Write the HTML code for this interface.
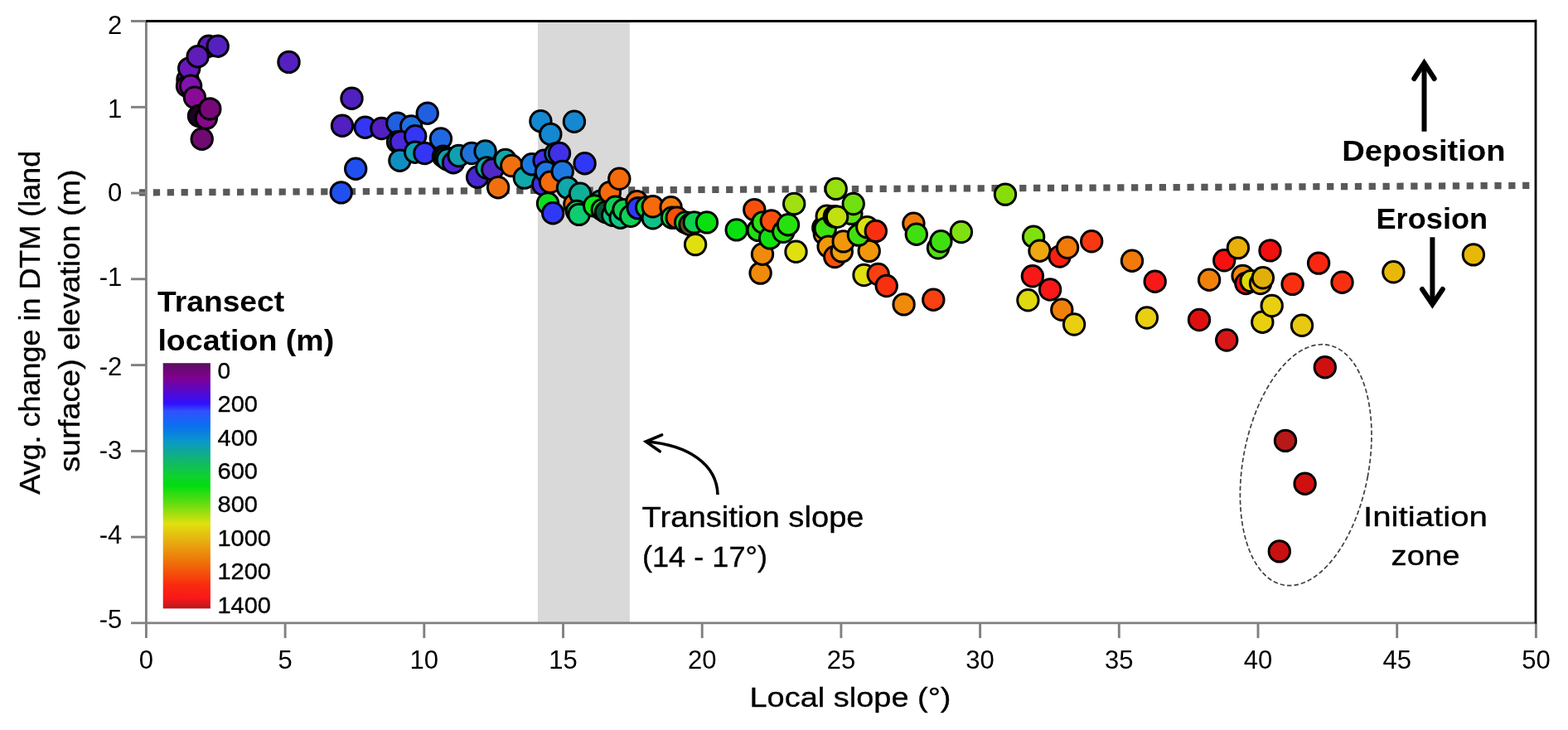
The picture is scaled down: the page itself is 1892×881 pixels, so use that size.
<!DOCTYPE html>
<html lang="en"><head><meta charset="utf-8"><title>Local slope vs. DTM elevation change</title>
<style>
html,body{margin:0;padding:0;background:#fff;}
body{width:1892px;height:881px;overflow:hidden;}
svg{display:block;}
text{font-family:"Liberation Sans",Arial,sans-serif;fill:#000;}
.b{font-weight:bold;}
.a{stroke:#000;stroke-width:0.35px;}
</style></head><body>
<svg width="1892" height="881" viewBox="0 0 1892 881">
<defs>
<linearGradient id="cb" x1="0" y1="0" x2="0" y2="1">
<stop offset="0" stop-color="#5b1060"/>
<stop offset="0.06" stop-color="#800090"/>
<stop offset="0.165" stop-color="#3010ff"/>
<stop offset="0.195" stop-color="#3050ff"/>
<stop offset="0.258" stop-color="#0a70f0"/>
<stop offset="0.32" stop-color="#0a98c8"/>
<stop offset="0.38" stop-color="#10b080"/>
<stop offset="0.46" stop-color="#10d030"/>
<stop offset="0.497" stop-color="#00dd10"/>
<stop offset="0.57" stop-color="#60dd10"/>
<stop offset="0.655" stop-color="#e0e010"/>
<stop offset="0.735" stop-color="#e8a810"/>
<stop offset="0.823" stop-color="#f06808"/>
<stop offset="0.908" stop-color="#fa2810"/>
<stop offset="0.958" stop-color="#f81818"/>
<stop offset="1" stop-color="#b81820"/>
</linearGradient>
</defs>
<rect width="1892" height="881" fill="#fff"/>
<rect x="648.9" y="27" width="111" height="724" fill="#d9d9d9"/>
<line x1="168.0" y1="232.4" x2="1850" y2="223.9" stroke="#595959" stroke-width="8.2" stroke-dasharray="8.25 8.61"/>
<g stroke="#808080" stroke-width="2.9" fill="none">
<line x1="176.4" y1="24" x2="176.4" y2="770.1"/>
<line x1="158" y1="751.9" x2="1854" y2="751.9"/>
<line x1="344.1" y1="751.9" x2="344.1" y2="770.1"/>
<line x1="511.8" y1="751.9" x2="511.8" y2="770.1"/>
<line x1="679.5" y1="751.9" x2="679.5" y2="770.1"/>
<line x1="847.2" y1="751.9" x2="847.2" y2="770.1"/>
<line x1="1014.9" y1="751.9" x2="1014.9" y2="770.1"/>
<line x1="1182.6" y1="751.9" x2="1182.6" y2="770.1"/>
<line x1="1350.3" y1="751.9" x2="1350.3" y2="770.1"/>
<line x1="1518.0" y1="751.9" x2="1518.0" y2="770.1"/>
<line x1="1685.7" y1="751.9" x2="1685.7" y2="770.1"/>
<line x1="1853.4" y1="751.9" x2="1853.4" y2="770.1"/>
<line x1="158" y1="25.5" x2="176.4" y2="25.5"/>
<line x1="158" y1="129.3" x2="176.4" y2="129.3"/>
<line x1="158" y1="233.0" x2="176.4" y2="233.0"/>
<line x1="158" y1="336.8" x2="176.4" y2="336.8"/>
<line x1="158" y1="440.6" x2="176.4" y2="440.6"/>
<line x1="158" y1="544.4" x2="176.4" y2="544.4"/>
<line x1="158" y1="648.1" x2="176.4" y2="648.1"/>
</g>
<path d="M176.2 25.45 H1853" fill="none" stroke="#000" stroke-width="3"/>
<path d="M1853 23.8 V752.6" fill="none" stroke="#000" stroke-width="2.8"/>
<g font-size="31px" text-anchor="middle">
<text x="176.4" y="807.4">0</text>
<text x="344.1" y="807.4">5</text>
<text x="511.8" y="807.4">10</text>
<text x="679.5" y="807.4">15</text>
<text x="847.2" y="807.4">20</text>
<text x="1014.9" y="807.4">25</text>
<text x="1182.6" y="807.4">30</text>
<text x="1350.3" y="807.4">35</text>
<text x="1518.0" y="807.4">40</text>
<text x="1685.7" y="807.4">45</text>
<text x="1853.4" y="807.4">50</text>
</g>
<g font-size="31px" text-anchor="end">
<text x="147.3" y="41.2">2</text>
<text x="147.3" y="141.7">1</text>
<text x="147.3" y="243.0">0</text>
<text x="147.3" y="345.0">-1</text>
<text x="147.3" y="453.0">-2</text>
<text x="147.3" y="553.7">-3</text>
<text x="147.3" y="656.1">-4</text>
<text x="147.3" y="758.4">-5</text>
</g>
<text class="a" x="1026" y="853.4" font-size="34px" text-anchor="middle" textLength="243" lengthAdjust="spacingAndGlyphs">Local slope (°)</text>
<text class="a" transform="translate(47.8 389.3) rotate(-90)" font-size="35px" text-anchor="middle" textLength="415" lengthAdjust="spacingAndGlyphs">Avg. change in DTM (land</text>
<text class="a" transform="translate(95.5 387) rotate(-90)" font-size="35px" text-anchor="middle" textLength="365" lengthAdjust="spacingAndGlyphs">surface) elevation (m)</text>
<text class="b" x="190.1" y="376.2" font-size="35px" textLength="153" lengthAdjust="spacingAndGlyphs">Transect</text>
<text class="b" x="190.4" y="423.2" font-size="35px" textLength="212.8" lengthAdjust="spacingAndGlyphs">location (m)</text>
<rect x="196.7" y="438.2" width="57.2" height="296.2" fill="url(#cb)"/>
<g font-size="27.5px">
<text class="a" x="262.5" y="456.8" textLength="15.6" lengthAdjust="spacingAndGlyphs">0</text>
<text class="a" x="262.5" y="497.2" textLength="48.5" lengthAdjust="spacingAndGlyphs">200</text>
<text class="a" x="262.5" y="537.6" textLength="48.5" lengthAdjust="spacingAndGlyphs">400</text>
<text class="a" x="262.5" y="578.0" textLength="48.5" lengthAdjust="spacingAndGlyphs">600</text>
<text class="a" x="262.5" y="618.4" textLength="48.5" lengthAdjust="spacingAndGlyphs">800</text>
<text class="a" x="262.5" y="658.8" textLength="64.5" lengthAdjust="spacingAndGlyphs">1000</text>
<text class="a" x="262.5" y="699.2" textLength="64.5" lengthAdjust="spacingAndGlyphs">1200</text>
<text class="a" x="262.5" y="739.6" textLength="64.5" lengthAdjust="spacingAndGlyphs">1400</text>
</g>
<text class="a" x="774.6" y="636" font-size="35px" textLength="268" lengthAdjust="spacingAndGlyphs">Transition slope</text>
<text class="a" x="775" y="684" font-size="35px" textLength="151" lengthAdjust="spacingAndGlyphs">(14 - 17°)</text>
<path d="M866 597 C865 560 830 537 780.5 533" fill="none" stroke="#000" stroke-width="3.6"/>
<path d="M798.6 524.8 L779.3 533 L796.3 544.8" fill="none" stroke="#000" stroke-width="3.6" stroke-linecap="round" stroke-linejoin="miter"/>
<text class="a" x="1720" y="635.4" font-size="34px" text-anchor="middle" textLength="150" lengthAdjust="spacingAndGlyphs">Initiation</text>
<text class="a" x="1720" y="681.9" font-size="34px" text-anchor="middle" textLength="83" lengthAdjust="spacingAndGlyphs">zone</text>
<ellipse cx="1575.7" cy="561.2" rx="75.9" ry="147.3" transform="rotate(10.5 1575.7 561.2)" fill="none" stroke="#404040" stroke-width="1.7" stroke-dasharray="5.5 3"/>
<text class="b" x="1619.3" y="194.2" font-size="35px" textLength="197.3" lengthAdjust="spacingAndGlyphs">Deposition</text>
<text class="b" x="1660.5" y="276.2" font-size="35px" textLength="134.6" lengthAdjust="spacingAndGlyphs">Erosion</text>
<g fill="none" stroke="#000" stroke-width="6" stroke-linejoin="miter">
<path d="M1718.5 158.7 V78"/>
<path d="M1706.3 95 L1718.5 76.1 L1730.7 95" stroke-linecap="round"/>
<path d="M1728.4 286.3 V366"/>
<path d="M1716 349 L1728.4 367.4 L1740.8 349" stroke-linecap="round"/>
</g>
<g stroke="#000" stroke-width="3">
<circle cx="226.5" cy="96.0" r="12.7" fill="#8a10b0"/>
<circle cx="226.0" cy="104.0" r="12.7" fill="#a010a0"/>
<circle cx="252.0" cy="55.7" r="12.7" fill="#5a1cb8"/>
<circle cx="228.2" cy="82.6" r="12.7" fill="#6a18b8"/>
<circle cx="238.6" cy="68.2" r="12.7" fill="#5f1cb8"/>
<circle cx="262.7" cy="55.7" r="12.7" fill="#5520c0"/>
<circle cx="230.1" cy="103.8" r="12.7" fill="#8012b0"/>
<circle cx="234.9" cy="117.6" r="12.7" fill="#8a0a98"/>
<circle cx="240.0" cy="140.0" r="12.7" fill="#1a0420"/>
<circle cx="248.9" cy="142.6" r="12.7" fill="#85088a"/>
<circle cx="253.3" cy="131.4" r="12.7" fill="#780878"/>
<circle cx="243.7" cy="167.7" r="12.7" fill="#6e0a70"/>
<circle cx="348.5" cy="74.9" r="12.7" fill="#5520c0"/>
<circle cx="424.5" cy="118.7" r="12.7" fill="#5020c0"/>
<circle cx="413.0" cy="151.7" r="12.7" fill="#5020c0"/>
<circle cx="440.7" cy="153.7" r="12.7" fill="#3535f5"/>
<circle cx="460.4" cy="155.0" r="12.7" fill="#5020c0"/>
<circle cx="479.4" cy="148.7" r="12.7" fill="#2060e0"/>
<circle cx="496.2" cy="152.5" r="12.7" fill="#2070e0"/>
<circle cx="515.7" cy="136.7" r="12.7" fill="#2060e0"/>
<circle cx="480.0" cy="171.2" r="12.7" fill="#2050e0"/>
<circle cx="483.7" cy="171.2" r="12.7" fill="#4828d8"/>
<circle cx="501.2" cy="164.2" r="12.7" fill="#3535f5"/>
<circle cx="482.4" cy="193.7" r="12.7" fill="#1090c0"/>
<circle cx="501.2" cy="183.7" r="12.7" fill="#10a0b0"/>
<circle cx="512.4" cy="185.0" r="12.7" fill="#3535f5"/>
<circle cx="531.9" cy="167.5" r="12.7" fill="#2068e0"/>
<circle cx="535.0" cy="188.7" r="12.7" fill="#0c6070"/>
<circle cx="537.5" cy="190.5" r="12.7" fill="#10a0b0"/>
<circle cx="540.0" cy="192.5" r="12.7" fill="#10a0a8"/>
<circle cx="547.0" cy="196.2" r="12.7" fill="#4828d8"/>
<circle cx="553.6" cy="188.0" r="12.7" fill="#10a0b0"/>
<circle cx="569.1" cy="185.0" r="12.7" fill="#2070d8"/>
<circle cx="585.6" cy="182.5" r="12.7" fill="#1088c8"/>
<circle cx="576.1" cy="213.7" r="12.7" fill="#4828d0"/>
<circle cx="587.3" cy="202.5" r="12.7" fill="#10a8a8"/>
<circle cx="594.3" cy="204.4" r="12.7" fill="#5028c8"/>
<circle cx="609.8" cy="193.0" r="12.7" fill="#10a8a8"/>
<circle cx="617.3" cy="200.0" r="12.7" fill="#f07010"/>
<circle cx="601.1" cy="226.2" r="12.7" fill="#f07010"/>
<circle cx="632.8" cy="214.6" r="12.7" fill="#10a8a8"/>
<circle cx="429.2" cy="203.7" r="12.7" fill="#2050f0"/>
<circle cx="411.7" cy="232.4" r="12.7" fill="#2050f0"/>
<circle cx="652.4" cy="146.2" r="12.7" fill="#1488d0"/>
<circle cx="664.3" cy="161.9" r="12.7" fill="#1488d0"/>
<circle cx="692.9" cy="146.7" r="12.7" fill="#1488d0"/>
<circle cx="641.8" cy="198.2" r="12.7" fill="#1c78e0"/>
<circle cx="656.6" cy="193.7" r="12.7" fill="#4030e8"/>
<circle cx="670.4" cy="185.5" r="12.7" fill="#1488d0"/>
<circle cx="675.0" cy="185.0" r="12.7" fill="#4030e8"/>
<circle cx="655.2" cy="222.5" r="12.7" fill="#4030e0"/>
<circle cx="659.0" cy="207.6" r="12.7" fill="#1c78e0"/>
<circle cx="664.0" cy="219.8" r="12.7" fill="#f56a0a"/>
<circle cx="678.7" cy="207.0" r="12.7" fill="#1c78e0"/>
<circle cx="705.6" cy="197.2" r="12.7" fill="#3038f8"/>
<circle cx="685.0" cy="226.6" r="12.7" fill="#10a8a8"/>
<circle cx="693.4" cy="246.5" r="12.7" fill="#f56a0a"/>
<circle cx="700.0" cy="233.7" r="12.7" fill="#10b098"/>
<circle cx="661.0" cy="245.5" r="12.7" fill="#10dd20"/>
<circle cx="667.2" cy="257.2" r="12.7" fill="#3038f8"/>
<circle cx="696.0" cy="255.0" r="12.7" fill="#10d050"/>
<circle cx="698.6" cy="258.9" r="12.7" fill="#10cc70"/>
<circle cx="724.9" cy="242.6" r="12.7" fill="#10b098"/>
<circle cx="717.2" cy="248.4" r="12.7" fill="#10e818"/>
<circle cx="726.8" cy="253.1" r="12.7" fill="#10e020"/>
<circle cx="735.8" cy="232.1" r="12.7" fill="#f56a0a"/>
<circle cx="747.3" cy="215.8" r="12.7" fill="#f56a0a"/>
<circle cx="731.0" cy="256.0" r="12.7" fill="#0c5030"/>
<circle cx="739.2" cy="259.8" r="12.7" fill="#10c880"/>
<circle cx="742.5" cy="249.8" r="12.7" fill="#10d050"/>
<circle cx="748.7" cy="262.7" r="12.7" fill="#10c880"/>
<circle cx="752.5" cy="253.1" r="12.7" fill="#10d050"/>
<circle cx="761.1" cy="260.8" r="12.7" fill="#10d058"/>
<circle cx="768.5" cy="243.3" r="12.7" fill="#f56a0a"/>
<circle cx="769.7" cy="251.2" r="12.7" fill="#3038f8"/>
<circle cx="780.2" cy="250.3" r="12.7" fill="#10d040"/>
<circle cx="787.8" cy="263.3" r="12.7" fill="#10c088"/>
<circle cx="787.7" cy="249.3" r="12.7" fill="#f56a0a"/>
<circle cx="809.6" cy="250.3" r="12.7" fill="#f57a0a"/>
<circle cx="811.0" cy="262.7" r="12.7" fill="#10d840"/>
<circle cx="816.7" cy="262.7" r="12.7" fill="#f8500a"/>
<circle cx="827.2" cy="268.4" r="12.7" fill="#10e030"/>
<circle cx="832.5" cy="271.0" r="12.7" fill="#5a5a10"/>
<circle cx="839.1" cy="295.1" r="12.7" fill="#e0e010"/>
<circle cx="837.7" cy="268.4" r="12.7" fill="#10d050"/>
<circle cx="852.9" cy="268.4" r="12.7" fill="#08e010"/>
<circle cx="888.7" cy="277.4" r="12.7" fill="#08e010"/>
<circle cx="910.3" cy="253.1" r="12.7" fill="#f8500a"/>
<circle cx="914.8" cy="277.9" r="12.7" fill="#20e010"/>
<circle cx="920.5" cy="268.4" r="12.7" fill="#30e010"/>
<circle cx="917.6" cy="329.6" r="12.7" fill="#f08a0a"/>
<circle cx="920.0" cy="306.7" r="12.7" fill="#f08a0a"/>
<circle cx="929.1" cy="287.4" r="12.7" fill="#10e010"/>
<circle cx="930.8" cy="266.5" r="12.7" fill="#f8500a"/>
<circle cx="945.3" cy="279.8" r="12.7" fill="#20e010"/>
<circle cx="951.0" cy="271.2" r="12.7" fill="#28e010"/>
<circle cx="958.2" cy="246.0" r="12.7" fill="#a0e010"/>
<circle cx="960.5" cy="303.8" r="12.7" fill="#e0e010"/>
<circle cx="993.3" cy="274.8" r="12.7" fill="#202008"/>
<circle cx="997.7" cy="260.8" r="12.7" fill="#d0e010"/>
<circle cx="994.9" cy="282.4" r="12.7" fill="#f0980a"/>
<circle cx="995.8" cy="276.0" r="12.7" fill="#40e010"/>
<circle cx="1027.3" cy="257.9" r="12.7" fill="#60e010"/>
<circle cx="1029.7" cy="246.0" r="12.7" fill="#70e010"/>
<circle cx="1006.8" cy="261.3" r="12.7" fill="#303008"/>
<circle cx="1010.1" cy="261.7" r="12.7" fill="#c0e010"/>
<circle cx="1008.7" cy="227.9" r="12.7" fill="#98e010"/>
<circle cx="999.6" cy="297.6" r="12.7" fill="#f0980a"/>
<circle cx="1007.3" cy="310.0" r="12.7" fill="#f8500a"/>
<circle cx="1015.8" cy="303.4" r="12.7" fill="#f0a00a"/>
<circle cx="1017.7" cy="291.4" r="12.7" fill="#f0980a"/>
<circle cx="1048.7" cy="302.9" r="12.7" fill="#f0980a"/>
<circle cx="1035.9" cy="283.6" r="12.7" fill="#40e010"/>
<circle cx="1046.3" cy="274.1" r="12.7" fill="#d8e010"/>
<circle cx="1056.8" cy="278.9" r="12.7" fill="#f83010"/>
<circle cx="1042.5" cy="332.0" r="12.7" fill="#e0e010"/>
<circle cx="1059.7" cy="331.0" r="12.7" fill="#f84010"/>
<circle cx="1069.7" cy="345.0" r="12.7" fill="#f83010"/>
<circle cx="1090.6" cy="367.4" r="12.7" fill="#f08a0a"/>
<circle cx="1126.3" cy="361.7" r="12.7" fill="#f84010"/>
<circle cx="1102.4" cy="269.7" r="12.7" fill="#f07a0a"/>
<circle cx="1105.8" cy="282.7" r="12.7" fill="#40e010"/>
<circle cx="1132.0" cy="299.3" r="12.7" fill="#50e010"/>
<circle cx="1135.4" cy="291.3" r="12.7" fill="#40e010"/>
<circle cx="1159.9" cy="280.0" r="12.7" fill="#80e010"/>
<circle cx="1213.0" cy="234.6" r="12.7" fill="#88dd08"/>
<circle cx="1247.1" cy="285.7" r="12.7" fill="#80e010"/>
<circle cx="1254.5" cy="302.7" r="12.7" fill="#f0a810"/>
<circle cx="1278.6" cy="309.5" r="12.7" fill="#f82010"/>
<circle cx="1288.1" cy="298.8" r="12.7" fill="#f07a0a"/>
<circle cx="1317.2" cy="291.3" r="12.7" fill="#f83810"/>
<circle cx="1240.4" cy="362.3" r="12.7" fill="#e0d810"/>
<circle cx="1245.9" cy="333.3" r="12.7" fill="#f81818"/>
<circle cx="1267.1" cy="349.5" r="12.7" fill="#f81818"/>
<circle cx="1281.3" cy="373.8" r="12.7" fill="#f0800a"/>
<circle cx="1296.1" cy="391.5" r="12.7" fill="#e8d010"/>
<circle cx="1366.0" cy="314.7" r="12.7" fill="#f07a0a"/>
<circle cx="1393.7" cy="339.7" r="12.7" fill="#f81818"/>
<circle cx="1383.9" cy="383.5" r="12.7" fill="#e8d010"/>
<circle cx="1447.0" cy="386.0" r="12.7" fill="#e01010"/>
<circle cx="1459.1" cy="337.7" r="12.7" fill="#f0820a"/>
<circle cx="1477.2" cy="314.3" r="12.7" fill="#f81010"/>
<circle cx="1493.9" cy="299.1" r="12.7" fill="#e8b008"/>
<circle cx="1532.5" cy="302.4" r="12.7" fill="#f01010"/>
<circle cx="1499.6" cy="332.9" r="12.7" fill="#f08a0a"/>
<circle cx="1503.4" cy="342.0" r="12.7" fill="#f81010"/>
<circle cx="1509.6" cy="339.1" r="12.7" fill="#e0d808"/>
<circle cx="1521.0" cy="342.0" r="12.7" fill="#e8b008"/>
<circle cx="1523.9" cy="335.3" r="12.7" fill="#e0b008"/>
<circle cx="1559.6" cy="342.9" r="12.7" fill="#f83010"/>
<circle cx="1591.1" cy="317.6" r="12.7" fill="#f82810"/>
<circle cx="1619.5" cy="340.7" r="12.7" fill="#f83010"/>
<circle cx="1523.3" cy="388.7" r="12.7" fill="#e8d010"/>
<circle cx="1534.7" cy="369.0" r="12.7" fill="#e8d010"/>
<circle cx="1571.0" cy="392.8" r="12.7" fill="#e8c810"/>
<circle cx="1480.2" cy="410.5" r="12.7" fill="#d81818"/>
<circle cx="1681.4" cy="328.3" r="12.7" fill="#e8b808"/>
<circle cx="1777.9" cy="307.4" r="12.7" fill="#e8b808"/>
<circle cx="1598.8" cy="443.2" r="12.7" fill="#d01010"/>
<circle cx="1551.0" cy="531.9" r="12.7" fill="#b81818"/>
<circle cx="1574.6" cy="583.7" r="12.7" fill="#d01010"/>
<circle cx="1543.8" cy="665.4" r="12.7" fill="#c81010"/>
</g>
</svg>
</body></html>
